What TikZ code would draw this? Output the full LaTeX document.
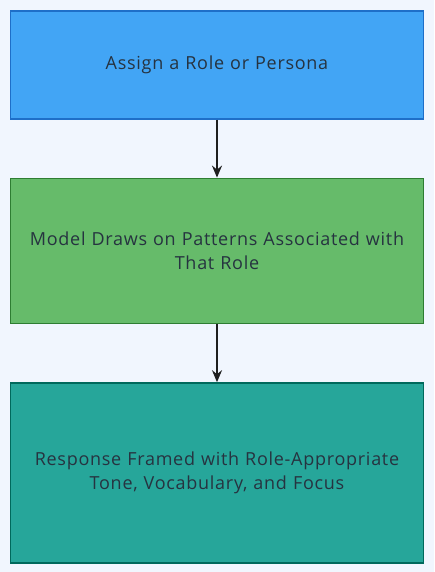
\documentclass[tikz,border=0pt]{standalone}
\usepackage{fontspec}
\setmainfont[LetterSpace=4]{Open Sans}
\usetikzlibrary{positioning,arrows.meta}
\definecolor{bgpale}{HTML}{F1F6FE}
\definecolor{inktext}{HTML}{263340}
\definecolor{rolefill}{HTML}{42A5F5}
\definecolor{roleline}{HTML}{1E6FC8}
\definecolor{patfill}{HTML}{66BB6A}
\definecolor{patline}{HTML}{2E7D32}
\definecolor{respfill}{HTML}{26A69A}
\definecolor{respline}{HTML}{00695C}

\begin{document}
\begin{tikzpicture}[x=1pt,y=1pt,
		stepbox/.style={draw, line width=1.6pt, minimum width=413pt, text width=400pt, align=center,
			font=\fontsize{18}{24}\selectfont, text=inktext},
		link/.style={-{Stealth[length=12pt,width=10pt,inset=4pt]}, line width=2.2pt, draw=black!88}]
		\fill[bgpale] (0,0) rectangle (434,572);
		\useasboundingbox (0,0) rectangle (434,572);
		
		\node[stepbox, fill=rolefill, draw=roleline, minimum height=108pt, anchor=north] (assign) at (217,562) {Assign a Role or Persona};
		\node[stepbox, fill=patfill, draw=patline, minimum height=145pt, below=58pt of assign] (patterns) {Model Draws on Patterns Associated with\\That Role};
		\node[stepbox, fill=respfill, draw=respline, minimum height=180pt, below=58pt of patterns] (response) {Response Framed with Role-Appropriate\\Tone, Vocabulary, and Focus};
		
		\draw[link] (assign) -- (patterns);
		\draw[link] (patterns) -- (response);
	\end{tikzpicture}
\end{document}
